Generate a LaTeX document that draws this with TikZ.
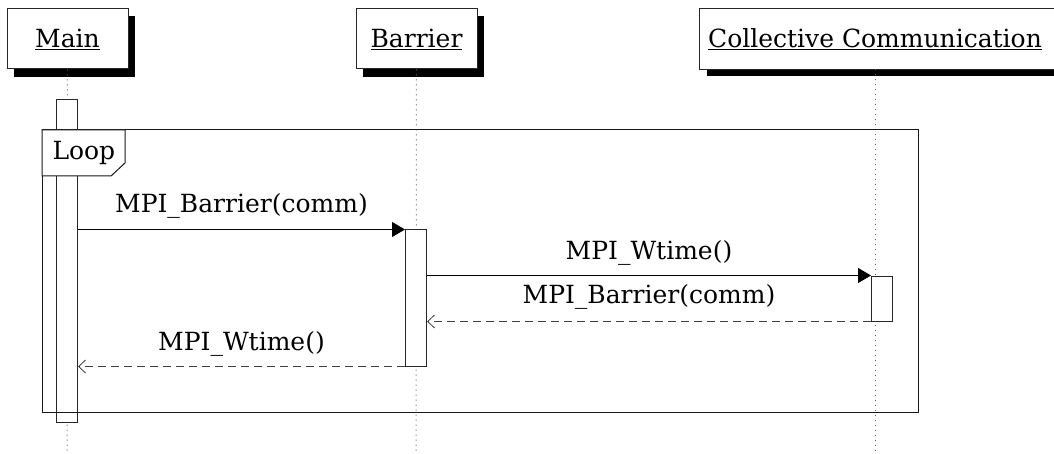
\documentclass[tikz,border=0pt]{standalone}
\usepackage{fontspec}
\setmainfont{DejaVu Serif}
\usetikzlibrary{arrows.meta,calc}
\begin{document}
\begin{tikzpicture}[x=1pt,y=-1pt,line width=1pt,
  every node/.style={font=\fontsize{25}{30}\selectfont},
  head/.style={draw=black!85,fill=white,minimum height=60pt,inner sep=0pt},
  shadowbox/.style={fill=black},
  lifeline/.style={draw=black!60,dash pattern=on 1pt off 4pt},
  act/.style={draw=black!85,fill=white,minimum width=21pt,inner sep=0pt},
  call/.style={draw=black,-{Triangle[length=13pt,width=15pt]}},
  reply/.style={draw=black!75,dash pattern=on 8pt off 5pt,-{Straight Barb[length=7pt,width=13pt,line width=0.8pt]}},
  msglabel/.style={anchor=base,inner sep=0pt}]
\useasboundingbox (0,0) rectangle (1054,454);
\clip (0,0) rectangle (1054,454);

% participant heads with drop shadows
\fill[shadowbox] (14,16) rectangle (135,77);
\node[head,minimum width=121pt] (main) at (67.5,39) {\underline{Main}};
\fill[shadowbox] (363,16) rectangle (484,77);
\node[head,minimum width=121pt] (barrier) at (416.5,39) {\underline{Barrier}};
\node[minimum width=350pt,minimum height=60pt,inner sep=0pt] (cc) at (875,39) {};
\fill[shadowbox] ($(cc.north west)+(7,7)$) rectangle ($(cc.south east)+(20,7)$);
\draw[draw=black!85,fill=white] (cc.north west) rectangle ($(cc.south east)+(12,0)$);
\node at (cc) {\underline{Collective Communication}};

% lifelines
\coordinate (mainEnd) at (67,454);
\coordinate (barEnd) at (416,454);
\coordinate (ccEnd) at (875,454);
\draw[lifeline] (main.south) -- (mainEnd);
\draw[lifeline] (barrier.south) -- (barEnd);
\draw[lifeline] (cc.south) -- (ccEnd);

% activation bars
\node[act,minimum height=322pt] (actMain) at (67,261) {};
\node[act,minimum height=136pt] (actBar) at (416,298) {};
\node[act,minimum height=45pt] (actCC) at (882,298.5) {};

% loop fragment
\draw[draw=black!90] (42,130) rectangle (918,412);
\draw[draw=black!90,fill=white] (42,130) -- (125,130) -- (125,163) -- (111,176) -- (42,176) -- cycle;
\node[msglabel,anchor=base west] (looplbl) at (52,160) {Loop};

% messages
\draw[call] (actMain.east |- actBar.north west) -- (actBar.north west)
  node[msglabel,pos=0.5,yshift=17pt] (m1) {MPI\_Barrier(comm)};
\draw[call] (actBar.east |- actCC.north west) -- (actCC.north west)
  node[msglabel,pos=0.5,yshift=16pt] (m2) {MPI\_Wtime()};
\draw[reply] (actCC.south west) -- (actBar.east |- actCC.south west)
  node[msglabel,pos=0.5,yshift=18pt] (m3) {MPI\_Barrier(comm)};
\draw[reply] (actBar.south west) -- (actMain.east |- actBar.south west)
  node[msglabel,pos=0.5,yshift=16pt] (m4) {MPI\_Wtime()};
\end{tikzpicture}
\end{document}
